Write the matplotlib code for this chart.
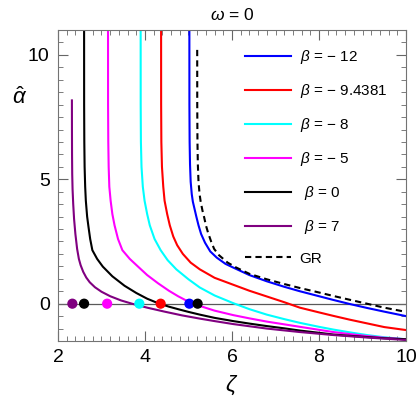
import matplotlib
matplotlib.use("Agg")
import matplotlib.pyplot as plt
from matplotlib.ticker import MultipleLocator

plt.rcParams['font.family'] = ['Liberation Sans', 'DejaVu Sans']
plt.rcParams['mathtext.fontset'] = 'custom'
plt.rcParams['mathtext.rm'] = 'Liberation Sans'
plt.rcParams['mathtext.it'] = 'Liberation Sans:italic'

# curves (zeta, alpha_hat)
zeta_m12 = [5.02, 5.021, 5.026, 5.035, 5.05, 5.075, 5.10, 5.14, 5.18, 5.23, 5.29, 5.38, 5.50,
            5.65, 5.85, 6.03, 6.4, 6.8, 7.2, 7.56, 8.0, 8.33, 8.7, 9.1, 9.5, 10.0]
alpha_m12 = [11.5, 8.0, 6.5, 5.6, 4.9, 4.4, 4.1, 3.8, 3.5, 3.15, 2.8, 2.45, 2.1,
             1.85, 1.6, 1.45, 1.15, 0.9, 0.68, 0.5, 0.3, 0.15, -0.01, -0.17, -0.32, -0.50]

zeta_m94 = [4.37, 4.371, 4.376, 4.39, 4.42, 4.45, 4.51, 4.57, 4.65, 4.74, 4.87, 5.05, 5.26,
            5.6, 6.03, 6.4, 6.8, 7.2, 7.56, 8.0, 8.33, 8.7, 9.1, 9.5, 10.0]
alpha_m94 = [11.5, 8.0, 6.5, 5.5, 4.7, 4.14, 3.6, 3.15, 2.7, 2.35, 2.0, 1.65, 1.38,
             1.04, 0.76, 0.52, 0.29, 0.06, -0.16, -0.35, -0.49, -0.64, -0.79, -0.94, -1.06]

zeta_m8 = [3.90, 3.901, 3.906, 3.92, 3.95, 3.99, 4.05, 4.11, 4.22, 4.36, 4.52, 4.72, 5.0,
           5.26, 5.6, 6.03, 6.4, 6.8, 7.2, 7.56, 8.0, 8.33, 8.7, 9.1, 9.5, 10.0]
alpha_m8 = [11.5, 8.0, 6.5, 5.5, 4.7, 4.14, 3.6, 3.15, 2.6, 2.15, 1.75, 1.38, 0.98,
            0.65, 0.33, 0.02, -0.22, -0.44, -0.62, -0.77, -0.93, -1.04, -1.15, -1.26, -1.35, -1.43]

zeta_m5 = [3.15, 3.151, 3.156, 3.165, 3.18, 3.21, 3.25, 3.30, 3.38, 3.48, 3.65, 3.84, 4.05,
           4.30, 4.55, 4.76, 5.0, 5.26, 5.6, 6.03, 6.4, 6.8, 7.2, 7.56, 8.0, 8.33, 8.7, 9.1, 9.5, 10.0]
alpha_m5 = [11.5, 8.0, 6.5, 5.5, 4.7, 4.14, 3.6, 3.15, 2.6, 2.15, 1.8, 1.49, 1.15,
            0.82, 0.52, 0.3, 0.08, -0.09, -0.28, -0.46, -0.59, -0.72, -0.83, -0.93, -1.05, -1.14, -1.22, -1.30, -1.37, -1.43]

zeta_0 = [2.60, 2.601, 2.605, 2.612, 2.625, 2.64, 2.67, 2.70, 2.74, 2.79, 2.9, 3.03, 3.25,
          3.53, 3.8, 4.05, 4.3, 4.55, 4.76, 5.0, 5.26, 5.6, 6.03, 6.4, 6.8, 7.2, 7.56, 8.0, 8.33, 8.7, 9.1, 9.5, 10.0]
alpha_0 = [11.5, 8.0, 6.5, 5.5, 4.7, 4.14, 3.5, 3.1, 2.6, 2.15, 1.8, 1.49, 1.1,
           0.72, 0.43, 0.2, 0.02, -0.12, -0.22, -0.33, -0.44, -0.57, -0.70, -0.80, -0.90, -0.99, -1.08, -1.17, -1.24, -1.29, -1.34, -1.39, -1.43]

zeta_7 = [2.32, 2.321, 2.323, 2.327, 2.335, 2.35, 2.37, 2.40, 2.44, 2.48, 2.52, 2.58, 2.65, 2.73,
          2.85, 3.0, 3.2, 3.45, 3.7, 4.05, 4.45, 4.85, 5.26, 5.6, 6.03, 6.8, 7.56, 8.33, 9.1, 10.0]
alpha_7 = [8.17, 7.0, 6.0, 5.2, 4.6, 4.0, 3.4, 2.8, 2.2, 1.8, 1.55, 1.28, 1.05, 0.86,
           0.66, 0.48, 0.3, 0.13, 0.0, -0.16, -0.32, -0.47, -0.6, -0.7, -0.82, -1.0, -1.14, -1.26, -1.36, -1.46]

zeta_gr = [5.20, 5.201, 5.206, 5.215, 5.23, 5.255, 5.28, 5.32, 5.36, 5.40, 5.45, 5.52, 5.59,
           5.7, 5.9, 6.1, 6.4, 6.8, 7.2, 7.56, 8.0, 8.33, 8.7, 9.1, 9.5, 10.0]
alpha_gr = [10.2, 8.0, 6.5, 5.6, 4.9, 4.4, 4.1, 3.75, 3.47, 3.15, 2.85, 2.5, 2.2,
            1.95, 1.65, 1.45, 1.2, 0.98, 0.79, 0.63, 0.45, 0.31, 0.16, 0.0, -0.16, -0.33]

# photon-sphere points on the zeta axis
dot_zeta = [2.33, 2.60, 3.13, 3.87, 4.36, 5.02, 5.21]
dot_colors = ['#800080', 'black', 'magenta', 'cyan', 'red', 'blue', 'black']

fig = plt.figure(figsize=(4.19, 4.08), dpi=100)
ax = fig.add_axes([0.1384, 0.1642, 0.8306, 0.7623])

ax.plot(zeta_m12, alpha_m12, color='blue', lw=1.5, label=r'$\beta$ = − 12')
ax.plot(zeta_m94, alpha_m94, color='red', lw=1.5, label=r'$\beta$ = − 9.4381')
ax.plot(zeta_m8, alpha_m8, color='cyan', lw=1.5, label=r'$\beta$ = − 8')
ax.plot(zeta_m5, alpha_m5, color='magenta', lw=1.5, label=r'$\beta$ = − 5')
ax.plot(zeta_0, alpha_0, color='black', lw=1.5, label=r' $\beta$ = 0')
ax.plot(zeta_7, alpha_7, color='#800080', lw=1.5, label=r' $\beta$ = 7')
ax.plot(zeta_gr, alpha_gr, color='black', lw=1.5, ls=(0, (3, 2)), label='GR')

ax.axhline(0, color='0.35', lw=0.9, zorder=1)
ax.scatter(dot_zeta, [0] * len(dot_zeta), c=dot_colors, s=40, zorder=5)

ax.set_xlim(2, 10)
ax.set_ylim(-1.5, 11)
ax.xaxis.set_major_locator(MultipleLocator(2))
ax.xaxis.set_minor_locator(MultipleLocator(0.2))
ax.yaxis.set_major_locator(MultipleLocator(5))
ax.yaxis.set_minor_locator(MultipleLocator(0.5))
ax.tick_params(which='both', direction='in', top=True, right=True, color='0.4')
ax.tick_params(which='major', length=7, width=0.8, labelsize=14, pad=6)
ax.tick_params(which='minor', length=3.5, width=0.6)
for s in ax.spines.values():
    s.set_color('0.45')

ax.set_xlabel(r'$\zeta$', fontsize=16, labelpad=5)
ax.set_ylabel(r'$\hat{\alpha}$', fontsize=16, rotation=0, va='center')
ax.yaxis.set_label_coords(-0.11, 0.78)
ax.set_title(r'$\omega$ = 0', fontsize=12.5, pad=7)

ax.legend(loc='upper right', bbox_to_anchor=(0.985, 0.985), frameon=False, fontsize=11,
          handlelength=3.0, labelspacing=1.04, handletextpad=0.55)

fig.savefig('out.png', dpi=100)
